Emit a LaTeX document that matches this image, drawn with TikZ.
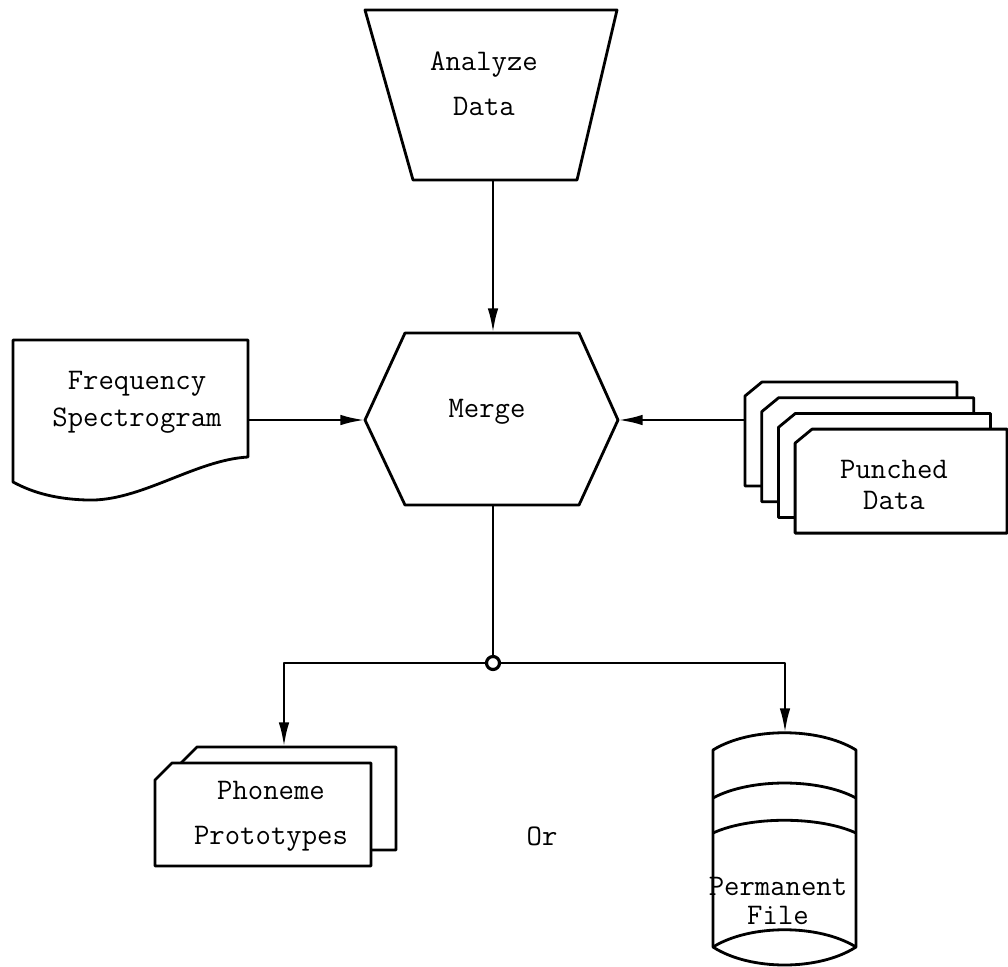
\documentclass[tikz,border=0pt]{standalone}
\usetikzlibrary{arrows.meta}
\begin{document}
\begin{tikzpicture}[x=0.02cm,y=-0.02cm,line width=1.6pt,line join=round]
    \useasboundingbox (0,0) rectangle (1008,967);
    \tikzset{flow/.style = {-{Latex[length=14pt,width=6pt]}},
        txt/.style = {font=\ttfamily\fontsize{17}{#1}\selectfont,
            align=center, inner sep=0pt},
        txt/.default = 20pt,
        card/.style = {draw, fill=white},
        junction/.style = {circle, draw, fill=white, inner sep=0pt,
            minimum size=0.26cm, line width=1.8pt}}
    % analyze data
    \draw (365,10) -- (617,10) -- (577,180) -- (413,180) -- cycle;
    \node[txt=25.6pt] (analyze) at (484,84) {Analyze\\Data};
    \coordinate (analyze-s) at (493,180);
    % merge
    \draw (405,333) -- (579,333) -- (618,420) -- (579,505)
        -- (405,505) -- (365,420) -- cycle;
    \node[txt] (merge) at (487,412) {Merge};
    \coordinate (merge-n) at (493,333);
    \coordinate (merge-w) at (365,420);
    \coordinate (merge-e) at (618,420);
    \coordinate (merge-s) at (493,505);
    % frequency spectrogram
    \draw (13,340) -- (248,340) -- (248,457)
        .. controls (195,460) and (140,502) .. (87,500)
        .. controls (50,499) and (28,490) .. (13,482) -- cycle;
    \node[txt=21pt] (freq) at (137,402) {Frequency\\Spectrogram};
    \coordinate (freq-e) at (248,420);
    % punched data
    \foreach \k in {0,...,3}
        \draw[card, shift={(16.7*\k,15.7*\k)}] (762,382) -- (957,382)
            -- (957,486) -- (745,486) -- (745,396) -- cycle;
    \node[txt=18pt] (punch) at (894,485) {Punched\\Data};
    \coordinate (punch-w) at (745,420);
    % phoneme prototypes
    \foreach \dx/\dy in {25/-16,0/0}
        \draw[card, shift={(\dx,\dy)}] (172,763) -- (371,763)
            -- (371,866) -- (155,866) -- (155,780) -- cycle;
    \node[txt=25.6pt] (phon) at (271,816) {Phoneme\\Prototypes};
    \coordinate (phon-n) at (284,747);
    % permanent file
    \draw[fill=white] (713,750) .. controls (750,727) and (819,727) .. (856,750)
        -- (856,947) .. controls (819,971) and (750,971) .. (713,947) -- cycle;
    \draw (713,798) .. controls (750,778) and (819,778) .. (856,798);
    \draw (713,833) .. controls (750,816) and (819,816) .. (856,833);
    \draw (713,947) .. controls (750,924) and (819,924) .. (856,947);
    \node[txt=17pt] (file) at (778,901) {Permanent\\File};
    \coordinate (file-n) at (785,733);
    \node[txt] (or) at (542,836) {Or};
    % connectors
    \draw[flow] (analyze-s) -- (merge-n);
    \draw[flow] (freq-e) -- (merge-w);
    \draw[flow] (punch-w) -- (merge-e);
    \node[junction] (junc) at (493,663) {};
    \draw (merge-s) -- (junc);
    \draw[flow] (junc) -| (phon-n);
    \draw[flow] (junc) -| (file-n);
\end{tikzpicture}
\end{document}
